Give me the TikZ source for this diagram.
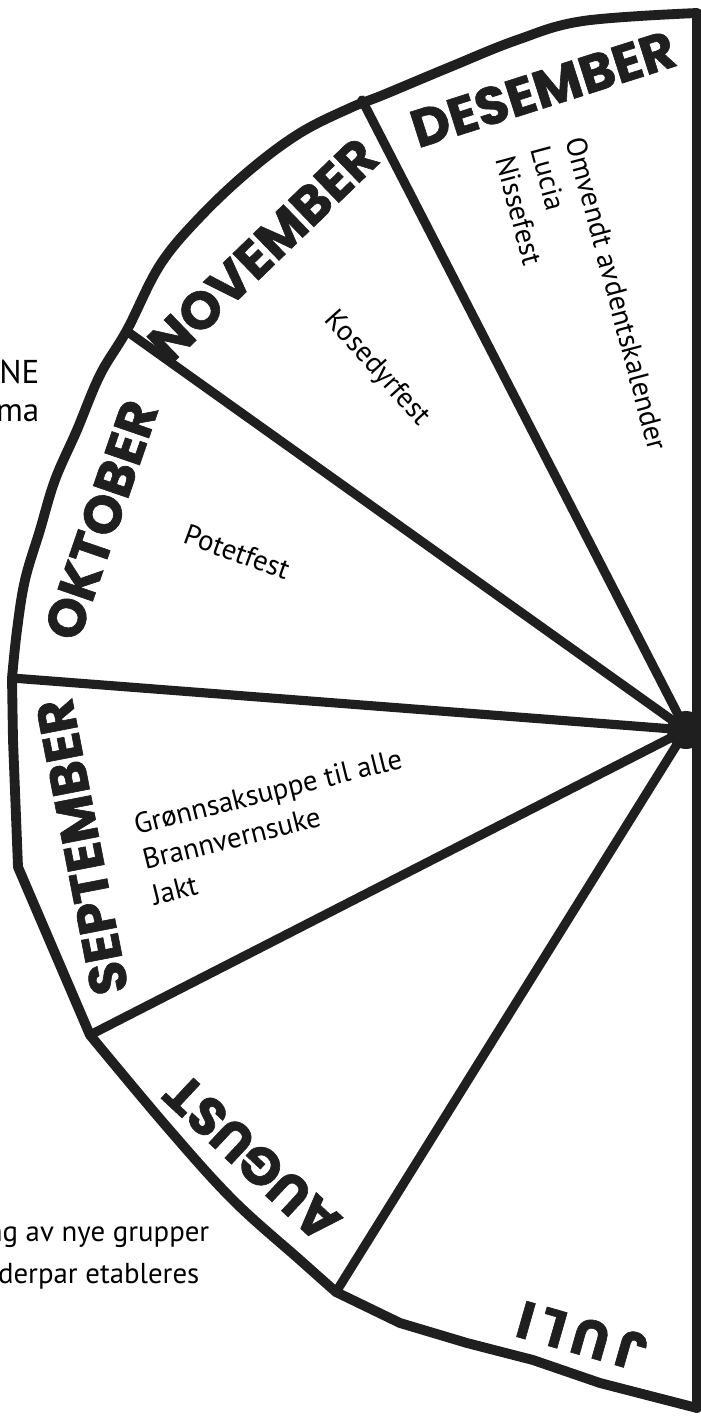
\documentclass[tikz,border=0pt]{standalone}
\usepackage{fontspec}
\setmainfont{PT Sans}
\newfontfamily\monthfont{Poppins}[BoldFeatures={FakeBold=1.2}]

\begin{document}
\begin{tikzpicture}[
    x=0.1mm, y=-0.1mm,
    rim/.style={draw=black!88, line width=2.8pt, line join=round, line cap=round},
    spoke/.style={draw=black!88, line width=2.6pt, line cap=round},
    note/.style={font=\fontsize{8.2}{10.4}\selectfont, inner sep=0pt, align=left},
    cutnote/.style={note, font=\fontsize{9.4}{11}\selectfont, anchor=base east},
    monthlbl/.style={font=\monthfont\bfseries\fontsize{15}{15}\selectfont,
                     text=black!88, inner sep=0pt}
  ]
  \useasboundingbox (0,0) rectangle (700,1421);

  \coordinate (hub)    at (686,730);
  \coordinate (top)    at (697,13);
  \coordinate (bottom) at (697,1408);
  \coordinate (desnov) at (362,100);
  \coordinate (novokt) at (128,332);
  \coordinate (oktsep) at (12,678);
  \coordinate (sepaug) at (90,1035);
  \coordinate (augjul) at (336,1292);

  \draw[rim] plot[smooth, tension=0.6] coordinates {(697,13) (583,21) (517,40)
    (450,67) (383,95) (350,108) (300,133) (250,170) (200,217) (160,265)
    (127,330) (100,375) (77,430) (55,480) (40,530) (25,580) (17,630) (12,678)}
    -- (13,740) -- (18,867) -- (90,1035);
  \draw[rim] plot[smooth, tension=0.6] coordinates {(90,1035) (167,1127)
    (233,1200) (300,1260) (336,1292)}
    -- (400,1323) -- (467,1343) -- (533,1360) -- (600,1383) -- (697,1408);
  \draw[rim] (top) -- (bottom);

  \draw[spoke] (hub) -- (desnov);
  \draw[spoke] (hub) -- (novokt);
  \draw[spoke] (hub) -- (oktsep);
  \draw[spoke] (hub) -- (sepaug);
  \draw[spoke] (hub) -- (augjul);
  \fill[black!88] (hub) circle (19);

  \node[monthlbl, rotate=17.7] (des) at (543,89)   {DESEMBER};
  \node[monthlbl, rotate=44]   (nov) at (263,250)  {NOVEMBER};
  \node[monthlbl, rotate=71]   (okt) at (101,520)  {OKTOBER};
  \node[monthlbl, rotate=101]  (sep) at (82,847)   {SEPTEMBER};
  \node[monthlbl, rotate=137]  (aug) at (252,1158) {AUGUST};
  \node[monthlbl, rotate=164]  (jul) at (582,1336) {\addfontfeature{LetterSpace=15}JULI};

  \node[note, rotate=-75, anchor=north west] (desnote) at (586,134)
    {Omvendt avdentskalender\\Lucia\\Nissefest};
  \node[note, rotate=-48] (novnote) at (377,369) {Kosedyrfest};
  \node[note, rotate=-20] (oktnote) at (237,552) {Potetfest};
  \node[note, rotate=14, anchor=north west] (sepnote) at (131,814)
    {Grønnsaksuppe til alle\\Brannvernsuke\\Jakt};

  \node[cutnote] (head1) at (40,383)  {ENE};
  \node[cutnote] (head2) at (40,421)  {mma};
  \node[note, anchor=base east] (foot1) at (210,1241) {ng av nye grupper};
  \node[note, anchor=base east] (foot2) at (200,1283) {derpar etableres};
\end{tikzpicture}
\end{document}
